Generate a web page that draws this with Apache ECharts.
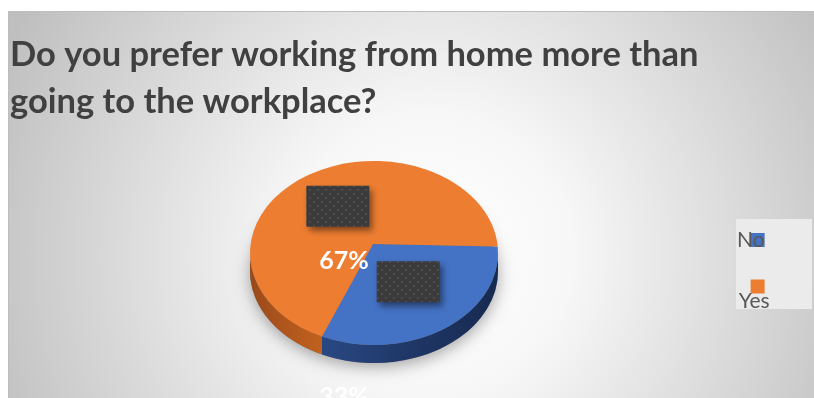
<!DOCTYPE html>
<html>
<head>
<meta charset="utf-8">
<script src="https://cdn.jsdelivr.net/npm/echarts@6/dist/echarts.min.js"></script>
<style>
  html, body { margin: 0; padding: 0; background: #ffffff; }
  #chart { width: 814px; height: 398px; }
</style>
</head>
<body>
<div id="chart"></div>
<script>
// Survey answers
const titleLines = ['Do you prefer working from home more than', 'going to the workplace?'];
const categories = ['No', 'Yes'];
const values = [33, 67];

// Appearance
const sliceColors = ['#4472C4', '#ED7D31'];
const wallColors = [
  ['#294883', '#1f3766', '#172a50'],
  ['#98491a', '#b0561d', '#c0611f']
];
// Pie drawn as a tilted disc: ellipse for the top face, apex slightly above its centre
const pie = { cx: 374, cy: 253, rx: 124, ry: 92, ax: 373, ay: 244, depth: 18, startDeg: -4 };
// Where each percentage label sits, relative to the apex
const percentOffsets = [[-29, 153], [-29, 17]];
const boxSize = [63, 41];

const total = values.reduce((s, v) => s + v, 0);

function pt(deg, dy) {
  const r = deg * Math.PI / 180;
  return [pie.cx + pie.rx * Math.cos(r), pie.cy + pie.ry * Math.sin(r) + (dy || 0)];
}
function sliceAngles(i) {
  let before = 0;
  for (let k = 0; k < i; k++) before += values[k];
  const a0 = pie.startDeg + 360 * before / total;
  const a1 = a0 + 360 * values[i] / total;
  return [a0, a1];
}
function f(n) { return n.toFixed(2); }

function dotTile() {
  const c = document.createElement('canvas');
  c.width = 8; c.height = 8;
  const g = c.getContext('2d');
  g.fillStyle = '#3b3b3b';
  g.fillRect(0, 0, 8, 8);
  g.fillStyle = '#525252';
  g.beginPath(); g.arc(2, 2, 1.1, 0, Math.PI * 2); g.fill();
  g.beginPath(); g.arc(6, 6, 1.1, 0, Math.PI * 2); g.fill();
  return c;
}
const tile = dotTile();

function renderSlice(i) {
  return function (params, api) {
    const v = api.value(0);
    const [a0, a1] = sliceAngles(i);
    const children = [];
    const d = pie.depth;

    // soft shadow under the whole disc (drawn once, beneath everything)
    if (i === 0) {
      const l = pt(180, d), r = pt(0, d);
      children.push({
        type: 'path',
        shape: { pathData: `M ${f(l[0])} ${f(l[1])} A ${pie.rx} ${pie.ry} 0 1 1 ${f(r[0])} ${f(r[1])} A ${pie.rx} ${pie.ry} 0 1 1 ${f(l[0])} ${f(l[1])} Z` },
        style: { fill: '#777777', shadowColor: 'rgba(0,0,0,0.35)', shadowBlur: 16, shadowOffsetY: 4 }
      });
    }

    // outer wall on the front half of the disc
    const b0 = Math.max(a0, 0), b1 = Math.min(a1, 180);
    if (b1 > b0) {
      const p0 = pt(b0), p1 = pt(b1), q1 = pt(b1, d), q0 = pt(b0, d);
      children.push({
        type: 'path',
        shape: { pathData: `M ${f(p0[0])} ${f(p0[1])} A ${pie.rx} ${pie.ry} 0 0 1 ${f(p1[0])} ${f(p1[1])} L ${f(q1[0])} ${f(q1[1])} A ${pie.rx} ${pie.ry} 0 0 0 ${f(q0[0])} ${f(q0[1])} Z` },
        style: {
          fill: { type: 'linear', x: 0, y: 0, x2: 1, y2: 0, colorStops: [
            { offset: 0, color: wallColors[i][0] },
            { offset: 0.5, color: wallColors[i][1] },
            { offset: 1, color: wallColors[i][2] }
          ] }
        }
      });
    }

    // top face
    const s = pt(a0), e = pt(a1);
    const large = (a1 - a0) > 180 ? 1 : 0;
    children.push({
      type: 'path',
      shape: { pathData: `M ${pie.ax} ${pie.ay} L ${f(s[0])} ${f(s[1])} A ${pie.rx} ${pie.ry} 0 ${large} 1 ${f(e[0])} ${f(e[1])} Z` },
      style: { fill: sliceColors[i] }
    });

    // category label box at mid-angle, half radius
    const m = (a0 + a1) / 2 * Math.PI / 180;
    const bx = pie.ax + 0.5 * pie.rx * Math.cos(m);
    const by = pie.ay + 0.5 * pie.ry * Math.sin(m);
    children.push({
      type: 'rect',
      shape: { x: bx - boxSize[0] / 2, y: by - boxSize[1] / 2, width: boxSize[0], height: boxSize[1] },
      style: { fill: { image: tile, repeat: 'repeat' }, shadowColor: 'rgba(0,0,0,0.45)', shadowBlur: 6, shadowOffsetX: 3, shadowOffsetY: 4 }
    });

    // percentage label
    children.push({
      type: 'text',
      style: {
        text: Math.round(v / total * 100) + '%',
        x: pie.ax + percentOffsets[i][0],
        y: pie.ay + percentOffsets[i][1],
        align: 'center', verticalAlign: 'middle',
        fill: '#ffffff', font: 'bold 25px Lato'
      }
    });

    return { type: 'group', children };
  };
}

const series = categories.map((name, i) => ({
  type: 'custom',
  name,
  coordinateSystem: 'none',
  data: [values[i]],
  itemStyle: { color: sliceColors[i] },
  silent: true,
  animation: false,
  renderItem: renderSlice(i)
}));

const legendRich = {
  c0: { fontFamily: 'Lato', fontSize: 21, color: '#595959', lineHeight: 25, padding: [0, -19, 0, 0] },
  c1: { fontFamily: 'Lato', fontSize: 21, color: '#595959', lineHeight: 25, padding: [29, -24, 0, 0] }
};

const chart = echarts.init(document.getElementById('chart'), null, { renderer: 'canvas' });
chart.setOption({
  animation: false,
  backgroundColor: '#ffffff',
  graphic: [
    {
      type: 'rect', z: -10,
      shape: { x: 8.5, y: 11.5, width: 810, height: 392 },
      style: {
        fill: { type: 'radial', x: 0.52, y: 0.62, r: 1.2, colorStops: [
          { offset: 0, color: '#ffffff' },
          { offset: 0.3, color: '#f7f7f7' },
          { offset: 1, color: '#bfbfbf' }
        ] },
        stroke: '#bdbdbd', lineWidth: 1
      }
    },
    {
      type: 'rect', z: -5,
      shape: { x: 736, y: 219, width: 76, height: 90 },
      style: { fill: '#ebebeb' }
    }
  ],
  title: {
    text: titleLines.join('\n'),
    left: 10, top: 31, padding: 0,
    textStyle: { fontFamily: 'Lato', fontWeight: 'bold', fontSize: 34.5, lineHeight: 47, color: '#404040' }
  },
  legend: {
    orient: 'vertical', left: 737, top: 229.5, padding: 0,
    itemGap: 11, align: 'right', icon: 'rect', itemWidth: 14, itemHeight: 14,
    selectedMode: false,
    textStyle: { fontFamily: 'Lato', fontSize: 21, color: '#595959', rich: legendRich },
    formatter: name => `{c${categories.indexOf(name)}|${name}}`,
    data: categories
  },
  series
});
</script>
</body>
</html>
